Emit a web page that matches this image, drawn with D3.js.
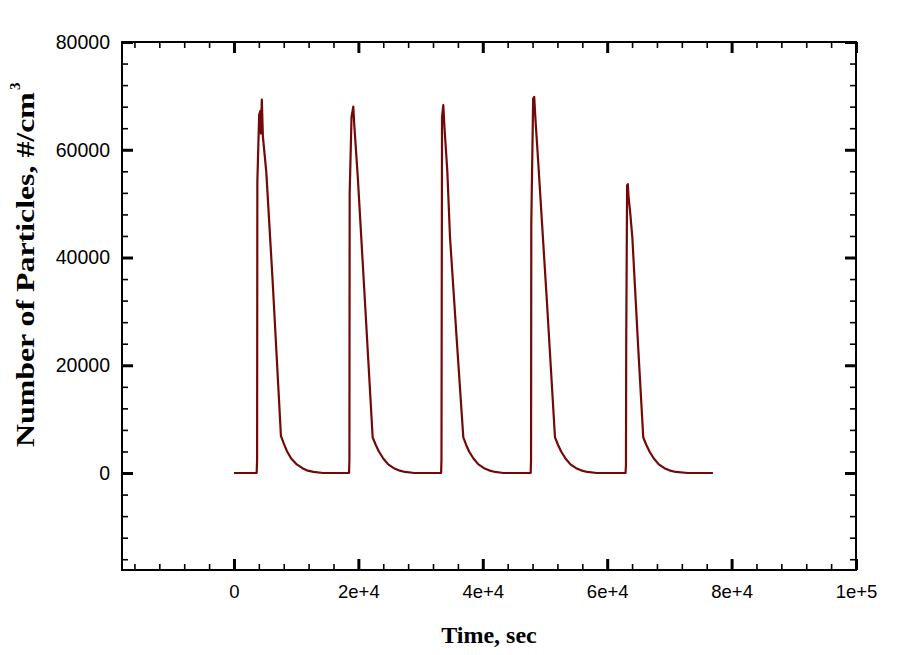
<!DOCTYPE html>
<html>
<head>
<meta charset="utf-8">
<script src="https://cdn.jsdelivr.net/npm/d3@7"></script>
<style>
  html, body { margin: 0; padding: 0; background: #fff; }
  svg { display: block; }
</style>
</head>
<body>
<svg id="chart" width="898" height="655"></svg>
<script>
// ---- data ----
const timeSec = [
  0, 3650, 3720, 3760, 4050, 4250, 4330, 4480, 4650, 5200, 6200, 7550, 8000, 8500, 9200, 10100, 11000, 11700, 12800, 14300,
  18500, 18560, 18600, 18900, 19180, 19350, 19900, 21000, 22300, 22800, 23300, 24000, 24800, 25700, 26500, 27500, 29000,
  33300, 33360, 33400, 33450, 33650, 33850, 34300, 34730, 35800, 36870, 37300, 37800, 38500, 39300, 40200, 41000, 42000, 43300,
  47700, 47760, 47800, 48100, 48270, 48450, 48930, 50300, 51610, 52100, 52600, 53300, 54100, 55000, 55800, 56800, 58300,
  62950, 63020, 63060, 63200, 63320, 63450, 63670, 64040, 65000, 65800, 66300, 66800, 67500, 68300, 69200, 70000, 71000, 73000, 77000
];
const particles = [
  0, 0, 2500, 54000, 66500, 67200, 63000, 69300, 62500, 55800, 36000, 6900, 5500, 4100, 2700, 1600, 900, 500, 200, 0,
  0, 2500, 51800, 66100, 68000, 64500, 55000, 33000, 6600, 5200, 4000, 2700, 1600, 900, 500, 200, 0,
  0, 2500, 31400, 66000, 68300, 64000, 56000, 43800, 25000, 6600, 5300, 4000, 2700, 1600, 900, 500, 200, 0,
  0, 2500, 46300, 69500, 69800, 66000, 57400, 32000, 6600, 5200, 4000, 2700, 1600, 900, 500, 200, 0,
  0, 1500, 24000, 53400, 53600, 51000, 48700, 43800, 23000, 6600, 5200, 4000, 2700, 1600, 900, 500, 200, 0, 0
];
const xTickValues = [0, 20000, 40000, 60000, 80000, 100000];
const xTickLabels = ["0", "2e+4", "4e+4", "6e+4", "8e+4", "1e+5"];
const yTickValues = [0, 20000, 40000, 60000, 80000];
const yTickLabels = ["0", "20000", "40000", "60000", "80000"];
const xMinorValues = [-16000, -12000, -8000, -4000, 4000, 8000, 12000, 16000, 24000, 28000, 32000, 36000,
  44000, 48000, 52000, 56000, 64000, 68000, 72000, 76000, 84000, 88000, 92000, 96000];
const yMinorValues = [-16000, -12000, -8000, -4000, 4000, 8000, 12000, 16000, 24000, 28000, 32000, 36000,
  44000, 48000, 52000, 56000, 64000, 68000, 72000, 76000];
const xDomain = [-18000, 100000];
const yDomain = [-18000, 80000];
const xTitle = "Time, sec";
const yTitle = "Number of Particles, #/cm";
const yTitleSup = "3";

// ---- layout ----
const L = 122, R = 856, T = 42, B = 570;
const svg = d3.select("#chart");
const x = d3.scaleLinear().domain(xDomain).range([L, R]);
const y = d3.scaleLinear().domain(yDomain).range([B, T]);

const points = timeSec.map((t, i) => [t, particles[i]]);

// line
svg.append("path")
  .datum(points)
  .attr("fill", "none")
  .attr("stroke", "#740808")
  .attr("stroke-width", 2.2)
  .attr("stroke-linejoin", "round")
  .attr("d", d3.line().x(d => x(d[0])).y(d => y(d[1])));

function styleAxis(g, w) {
  g.select(".domain").remove();
  g.selectAll(".tick line").attr("stroke", "#000").attr("stroke-width", w);
}

const tickFont = "'Liberation Sans', Arial, sans-serif";

// major ticks
const gx = svg.append("g").attr("transform", `translate(0,${B})`)
  .call(d3.axisBottom(x).tickValues(xTickValues).tickFormat((d, i) => xTickLabels[i])
    .tickSizeInner(-11).tickSizeOuter(0).tickPadding(15));
styleAxis(gx, 3);
gx.selectAll("text").attr("font-family", tickFont).attr("font-size", 18.5).attr("fill", "#000");

const gy = svg.append("g").attr("transform", `translate(${L},0)`)
  .call(d3.axisLeft(y).tickValues(yTickValues).tickFormat((d, i) => yTickLabels[i])
    .tickSizeInner(-11).tickSizeOuter(0).tickPadding(12));
styleAxis(gy, 3);
gy.selectAll("text").attr("font-family", tickFont).attr("font-size", 19.5).attr("fill", "#000");

const gxt = svg.append("g").attr("transform", `translate(0,${T})`)
  .call(d3.axisTop(x).tickValues(xTickValues).tickFormat("").tickSizeInner(-11).tickSizeOuter(0));
styleAxis(gxt, 3);
const gyr = svg.append("g").attr("transform", `translate(${R},0)`)
  .call(d3.axisRight(y).tickValues(yTickValues).tickFormat("").tickSizeInner(-11).tickSizeOuter(0));
styleAxis(gyr, 3);

// minor ticks
[[d3.axisBottom(x).tickValues(xMinorValues), `translate(0,${B})`],
 [d3.axisTop(x).tickValues(xMinorValues), `translate(0,${T})`],
 [d3.axisLeft(y).tickValues(yMinorValues), `translate(${L},0)`],
 [d3.axisRight(y).tickValues(yMinorValues), `translate(${R},0)`]].forEach(([ax, tr]) => {
  const g = svg.append("g").attr("transform", tr)
    .call(ax.tickFormat("").tickSizeInner(-6).tickSizeOuter(0));
  styleAxis(g, 1.6);
});

// frame
svg.append("rect").attr("x", L).attr("y", T).attr("width", R - L).attr("height", B - T)
  .attr("fill", "none").attr("stroke", "#000").attr("stroke-width", 2);

// titles
svg.append("text")
  .attr("x", 489).attr("y", 643)
  .attr("text-anchor", "middle")
  .attr("font-family", "'Liberation Serif', 'Times New Roman', serif")
  .attr("font-weight", "bold").attr("font-size", 24)
  .text(xTitle);

const ytG = svg.append("g").attr("transform", "translate(34,447) rotate(-90)");
const ytInner = ytG.append("g");
const yt = ytInner.append("text")
  .attr("x", 0).attr("y", 0)
  .attr("font-family", "'Liberation Serif', 'Times New Roman', serif")
  .attr("font-weight", "bold").attr("font-size", 26)
  .text(yTitle);
const natural = yt.node().getComputedTextLength();
const sx = 355 / natural;
ytInner.attr("transform", `scale(${sx},1)`);
ytG.append("text")
  .attr("x", 357).attr("y", -14)
  .attr("font-family", "'Liberation Serif', 'Times New Roman', serif")
  .attr("font-weight", "bold").attr("font-size", 15)
  .text(yTitleSup);
</script>
</body>
</html>
